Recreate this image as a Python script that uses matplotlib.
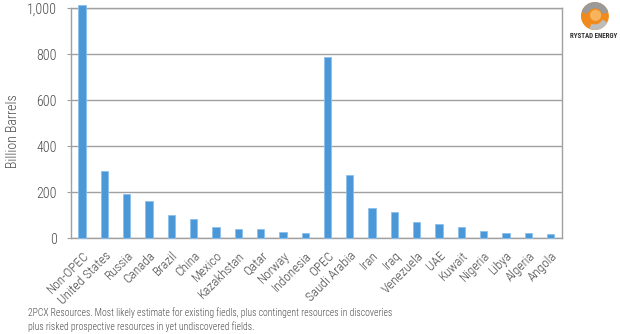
import matplotlib.pyplot as plt
from matplotlib.patches import Circle, Wedge

# Resources by country, billion barrels
countries = ["Non-OPEC", "United States", "Russia", "Canada", "Brazil", "China",
             "Mexico", "Kazakhstan", "Qatar", "Norway", "Indonesia",
             "OPEC", "Saudi Arabia", "Iran", "Iraq", "Venezuela", "UAE",
             "Kuwait", "Nigeria", "Libya", "Algeria", "Angola"]
resources = [1012, 293, 190, 162, 100, 81, 49, 40, 40, 26, 22,
             788, 272, 129, 112, 68, 61, 49, 32, 22, 22, 16]
y_ticks = [0, 200, 400, 600, 800, 1000]
y_tick_labels = ["0", "200", "400", "600", "800", "1,000"]

plt.rcParams["font.family"] = ["Roboto Condensed", "DejaVu Sans"]
plt.rcParams["font.weight"] = "light"

txt = "#4a4a4a"
grid = "#a0a0a0"

fig = plt.figure(figsize=(6.2, 3.34), dpi=100)
ax = fig.add_axes([0.1145, 0.2874, 0.7915, 0.6886])

x = range(len(countries))
ax.bar(x, resources, width=0.33, color="#4a98d8", edgecolor="#8cc0ea",
       linewidth=0.6, clip_on=False, zorder=3)

ax.set_xlim(-0.5, len(countries) - 0.5)
ax.set_ylim(0, 1000)
ax.set_yticks(y_ticks)
ax.set_yticklabels(y_tick_labels, fontsize=10, color=txt)
ax.set_xticks(list(x))
ax.set_xticklabels(countries, rotation=45, ha="right", va="top",
                   rotation_mode="anchor", fontsize=9.5, color=txt)
ax.tick_params(axis="y", length=3, color=grid, pad=7)
ax.tick_params(axis="x", length=0, pad=8)
ax.yaxis.grid(True, color=grid, linewidth=1.0, zorder=0)
ax.set_axisbelow(True)
for s in ax.spines.values():
    s.set_color(grid)
    s.set_linewidth(1.0)

fig.text(0.021, 0.608, "Billion Barrels", rotation=90, fontsize=10,
         color=txt, ha="center", va="center")

fig.text(0.045, 0.006,
         "2PCX Resources. Most likely estimate for existing fiedls, plus contingent resources in discoveries\n"
         "plus risked prospective resources in yet undiscovered fields.",
         fontsize=6.95, color=txt, ha="left", va="bottom", linespacing=1.4)

# logo
lax = fig.add_axes([0.937, 0.91, 0.045, 0.084])
lax.set_xlim(-1, 1)
lax.set_ylim(-1, 1)
lax.set_aspect("equal")
lax.axis("off")
lax.add_patch(Circle((0, 0), 0.95, color="#f08a1c"))
lax.add_patch(Wedge((0, 0), 0.95, 20, 160, width=0.35, color="#9a9a9a"))
lax.add_patch(Wedge((0, 0), 0.95, 250, 330, width=0.3, color="#bdbdbd"))
lax.add_patch(Circle((0.05, 0.05), 0.35, color="#f7b45c"))
fig.text(0.957, 0.892, "RYSTAD ENERGY", fontsize=5, color="#333333",
         ha="center", va="center", fontweight="bold")

fig.savefig("out.png", dpi=100)
